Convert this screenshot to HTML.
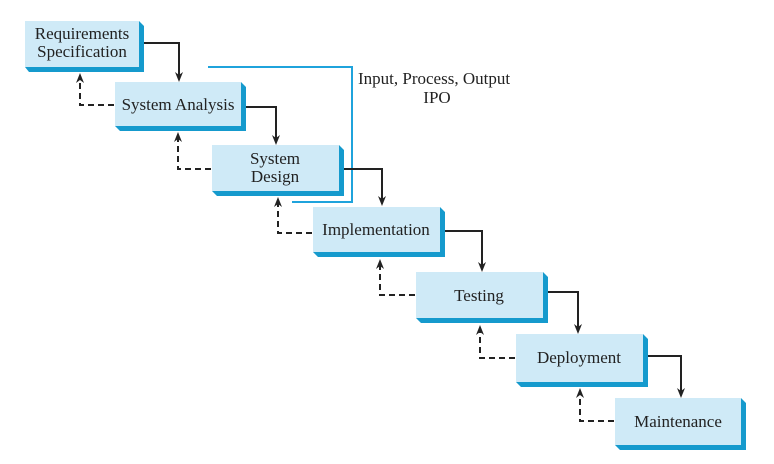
<!DOCTYPE html>
<html><head><meta charset="utf-8"><style>
html,body{margin:0;padding:0;background:#fff;}
svg{display:block;}
text{font-family:"Liberation Serif",serif;font-size:17px;fill:#222;}
</style></head><body>
<svg width="774" height="464" viewBox="0 0 774 464" xmlns="http://www.w3.org/2000/svg">
<!-- blue bracket -->
<polyline points="208,67 352,67 352,202 292,202" fill="none" stroke="#1fa3dc" stroke-width="2"/>
<text x="358" y="84">Input, Process, Output</text>
<text x="437" y="103" text-anchor="middle">IPO</text>

<g>
<polygon points="29,72 144,72 144,26 139,21 139,67 25,67" fill="#159acd"/>
<rect x="25" y="21" width="114" height="46" fill="#cfeaf7"/>
<text x="82" y="39" text-anchor="middle">Requirements</text>
<text x="82" y="57" text-anchor="middle">Specification</text>

<polygon points="120,131 246,131 246,87 241,82 241,126 115,126" fill="#159acd"/>
<rect x="115" y="82" width="126" height="44" fill="#cfeaf7"/>
<text x="178" y="110" text-anchor="middle">System Analysis</text>

<polygon points="217,196 344,196 344,150 339,145 339,191 212,191" fill="#159acd"/>
<rect x="212" y="145" width="127" height="46" fill="#cfeaf7"/>
<text x="275" y="164" text-anchor="middle">System</text>
<text x="275" y="182" text-anchor="middle">Design</text>

<polygon points="318,257 445,257 445,212 440,207 440,252 313,252" fill="#159acd"/>
<rect x="313" y="207" width="127" height="45" fill="#cfeaf7"/>
<text x="376" y="235" text-anchor="middle">Implementation</text>

<polygon points="421,323 548,323 548,277 543,272 543,318 416,318" fill="#159acd"/>
<rect x="416" y="272" width="127" height="46" fill="#cfeaf7"/>
<text x="479" y="301" text-anchor="middle">Testing</text>

<polygon points="521,387 648,387 648,339 643,334 643,382 516,382" fill="#159acd"/>
<rect x="516" y="334" width="127" height="48" fill="#cfeaf7"/>
<text x="579" y="363" text-anchor="middle">Deployment</text>

<polygon points="620,450 746,450 746,403 741,398 741,445 615,445" fill="#159acd"/>
<rect x="615" y="398" width="126" height="47" fill="#cfeaf7"/>
<text x="678" y="427" text-anchor="middle">Maintenance</text>
</g>

<g fill="none" stroke="#222" stroke-width="2">
<polyline points="144,43 179,43 179,76"/>
<polyline points="246,107 276,107 276,139"/>
<polyline points="344,169 382,169 382,200"/>
<polyline points="445,231 482,231 482,266"/>
<polyline points="548,292 578,292 578,328"/>
<polyline points="648,356 681,356 681,392"/>
</g>
<g fill="#222">
<path d="M175,72 L179,82 L183,72 L179,75 Z"/>
<path d="M272,135 L276,145 L280,135 L276,138 Z"/>
<path d="M378,196 L382,206 L386,196 L382,199 Z"/>
<path d="M478,262 L482,272 L486,262 L482,265 Z"/>
<path d="M574,324 L578,334 L582,324 L578,327 Z"/>
<path d="M677,388 L681,398 L685,388 L681,391 Z"/>
<!-- up arrows -->
<path d="M76,83 L80,73 L84,83 L80,80 Z"/>
<path d="M174,142 L178,132 L182,142 L178,139 Z"/>
<path d="M274,207 L278,197 L282,207 L278,204 Z"/>
<path d="M376,269 L380,259 L384,269 L380,266 Z"/>
<path d="M476,335 L480,325 L484,335 L480,332 Z"/>
<path d="M576,398 L580,388 L584,398 L580,395 Z"/>
</g>
<g fill="none" stroke="#222" stroke-width="2" stroke-dasharray="6,4">
<polyline points="114,105 80,105 80,80"/>
<polyline points="211,169 178,169 178,139"/>
<polyline points="312,233 278,233 278,204"/>
<polyline points="415,295 380,295 380,266"/>
<polyline points="515,358 480,358 480,332"/>
<polyline points="614,421 580,421 580,395"/>
</g>
</svg>
</body></html>
